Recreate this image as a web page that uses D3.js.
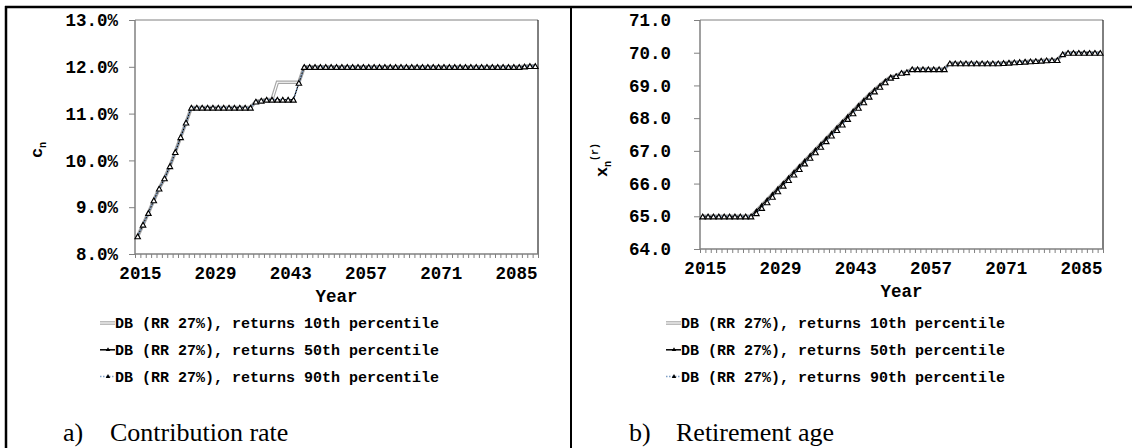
<!DOCTYPE html>
<meta charset="utf-8">
<style>
body { margin: 0; background: #fff; }
svg text { font-family: "Liberation Mono", "Courier New", monospace; font-weight: bold; fill: #000; }
svg text.caption { font-family: "Liberation Serif", "Times New Roman", serif; font-weight: normal; }
.axis path { display: none; }
.axis line { stroke: #808080; }
</style>
<svg width="1132" height="448"></svg>
<script src="https://cdn.jsdelivr.net/npm/d3@7/dist/d3.min.js"></script>
<script>

var years = d3.range(2015, 2090);
var yearLabels = [2015, 2029, 2043, 2057, 2071, 2085];

var seriesNames = [
  "DB (RR 27%), returns 10th percentile",
  "DB (RR 27%), returns 50th percentile",
  "DB (RR 27%), returns 90th percentile"
];

// contribution rate c_n (%)
var contrib10 = [
  8.38, 8.63, 8.88, 9.15, 9.40, 9.62, 9.88, 10.18, 10.50, 10.81,
  11.13, 11.13, 11.13, 11.13, 11.13, 11.13, 11.13, 11.13, 11.13, 11.13,
  11.13, 11.13, 11.26, 11.28, 11.30, 11.30, 11.67, 11.67, 11.67, 11.67,
  11.67, 12.00, 12.00, 12.00, 12.00, 12.00, 12.00, 12.00, 12.00, 12.00,
  12.00, 12.00, 12.00, 12.00, 12.00, 12.00, 12.00, 12.00, 12.00, 12.00,
  12.00, 12.00, 12.00, 12.00, 12.00, 12.00, 12.00, 12.00, 12.00, 12.00,
  12.00, 12.00, 12.00, 12.00, 12.00, 12.00, 12.00, 12.00, 12.00, 12.00,
  12.00, 12.00, 12.01, 12.02, 12.02
];
var contrib50 = [
  8.38, 8.63, 8.88, 9.15, 9.40, 9.62, 9.88, 10.18, 10.50, 10.81,
  11.13, 11.13, 11.13, 11.13, 11.13, 11.13, 11.13, 11.13, 11.13, 11.13,
  11.13, 11.13, 11.26, 11.28, 11.30, 11.30, 11.30, 11.30, 11.30, 11.30,
  11.66, 12.00, 12.00, 12.00, 12.00, 12.00, 12.00, 12.00, 12.00, 12.00,
  12.00, 12.00, 12.00, 12.00, 12.00, 12.00, 12.00, 12.00, 12.00, 12.00,
  12.00, 12.00, 12.00, 12.00, 12.00, 12.00, 12.00, 12.00, 12.00, 12.00,
  12.00, 12.00, 12.00, 12.00, 12.00, 12.00, 12.00, 12.00, 12.00, 12.00,
  12.00, 12.00, 12.01, 12.02, 12.02
];
var contrib90 = [
  8.38, 8.63, 8.88, 9.15, 9.40, 9.62, 9.88, 10.18, 10.50, 10.81,
  11.13, 11.13, 11.13, 11.13, 11.13, 11.13, 11.13, 11.13, 11.13, 11.13,
  11.13, 11.13, 11.26, 11.28, 11.30, 11.30, 11.30, 11.30, 11.30, 11.30,
  11.66, 12.00, 12.00, 12.00, 12.00, 12.00, 12.00, 12.00, 12.00, 12.00,
  12.00, 12.00, 12.00, 12.00, 12.00, 12.00, 12.00, 12.00, 12.00, 12.00,
  12.00, 12.00, 12.00, 12.00, 12.00, 12.00, 12.00, 12.00, 12.00, 12.00,
  12.00, 12.00, 12.00, 12.00, 12.00, 12.00, 12.00, 12.00, 12.00, 12.00,
  12.00, 12.00, 12.01, 12.02, 12.02
];

// retirement age x_n^(r)
var age10 = [
  65.00, 65.00, 65.00, 65.00, 65.00, 65.00, 65.00, 65.00, 65.00, 65.00,
  65.17, 65.34, 65.51, 65.68, 65.85, 66.02, 66.19, 66.36, 66.53, 66.70,
  66.87, 67.04, 67.21, 67.38, 67.55, 67.72, 67.89, 68.06, 68.23, 68.40,
  68.56, 68.72, 68.87, 69.01, 69.15, 69.27, 69.29, 69.39, 69.41, 69.50,
  69.50, 69.50, 69.50, 69.50, 69.50, 69.50, 69.68, 69.68, 69.68, 69.68,
  69.68, 69.68, 69.68, 69.68, 69.68, 69.68, 69.69, 69.70, 69.71, 69.72,
  69.73, 69.74, 69.75, 69.76, 69.77, 69.78, 69.78, 69.96, 70.00, 70.00,
  70.00, 70.00, 70.00, 70.00, 70.00
];
var age50 = [
  65.00, 65.00, 65.00, 65.00, 65.00, 65.00, 65.00, 65.00, 65.00, 65.00,
  65.17, 65.34, 65.51, 65.68, 65.85, 66.02, 66.19, 66.36, 66.53, 66.70,
  66.87, 67.04, 67.21, 67.38, 67.55, 67.72, 67.89, 68.06, 68.23, 68.40,
  68.56, 68.72, 68.87, 69.01, 69.15, 69.27, 69.29, 69.39, 69.41, 69.50,
  69.50, 69.50, 69.50, 69.50, 69.50, 69.50, 69.68, 69.68, 69.68, 69.68,
  69.68, 69.68, 69.68, 69.68, 69.68, 69.68, 69.69, 69.70, 69.71, 69.72,
  69.73, 69.74, 69.75, 69.76, 69.77, 69.78, 69.78, 69.96, 70.00, 70.00,
  70.00, 70.00, 70.00, 70.00, 70.00
];
var age90 = [
  65.00, 65.00, 65.00, 65.00, 65.00, 65.00, 65.00, 65.00, 65.00, 65.00,
  65.10, 65.26, 65.43, 65.60, 65.77, 65.94, 66.11, 66.28, 66.45, 66.62,
  66.79, 66.96, 67.13, 67.30, 67.47, 67.64, 67.81, 67.98, 68.15, 68.32,
  68.49, 68.66, 68.82, 68.96, 69.10, 69.24, 69.29, 69.39, 69.41, 69.50,
  69.50, 69.50, 69.50, 69.50, 69.50, 69.50, 69.68, 69.68, 69.68, 69.68,
  69.68, 69.68, 69.68, 69.68, 69.68, 69.68, 69.69, 69.70, 69.71, 69.72,
  69.73, 69.74, 69.75, 69.76, 69.77, 69.78, 69.78, 69.96, 70.00, 70.00,
  70.00, 70.00, 70.00, 70.00, 70.00
];

var contribTicks = [8, 9, 10, 11, 12, 13];
var ageTicks = [64, 65, 66, 67, 68, 69, 70, 71];

var svg = d3.select("svg");

// table frame
svg.append("line").attr("x1", 5).attr("x2", 1132).attr("y1", 7).attr("y2", 7)
  .attr("stroke", "#000").attr("stroke-width", 2.5);
svg.append("line").attr("x1", 6).attr("x2", 6).attr("y1", 6).attr("y2", 448)
  .attr("stroke", "#000").attr("stroke-width", 2.5);
svg.append("line").attr("x1", 571).attr("x2", 571).attr("y1", 6).attr("y2", 448)
  .attr("stroke", "#000").attr("stroke-width", 2);

function drawPanel(p) {
  var g = svg.append("g");

  var x = d3.scaleBand().domain(years).range([p.left, p.right]);
  var xi = d3.scaleLinear().domain([0, years.length]).range([p.left, p.right]);
  var y = d3.scaleLinear().domain(p.domain).range([p.bottom, p.top]);
  var cx = function(d, i) { return x(years[i]) + x.bandwidth() / 2; };

  // plot frame
  g.append("line").attr("x1", p.left).attr("x2", p.right).attr("y1", p.top).attr("y2", p.top)
    .attr("stroke", "#808080");
  g.append("line").attr("x1", p.right).attr("x2", p.right).attr("y1", p.top).attr("y2", p.bottom)
    .attr("stroke", "#000");
  g.append("line").attr("x1", p.left).attr("x2", p.left).attr("y1", p.top).attr("y2", p.bottom)
    .attr("stroke", "#808080").attr("stroke-width", 1.5);
  g.append("line").attr("x1", p.left).attr("x2", p.right).attr("y1", p.bottom).attr("y2", p.bottom)
    .attr("stroke", "#808080").attr("stroke-width", 1.5);

  // y axis
  var ya = g.append("g").attr("class", "axis")
    .attr("transform", "translate(" + p.left + ",0)")
    .call(d3.axisLeft(y).tickValues(p.ticks).tickSize(6).tickPadding(p.ypad).tickFormat(p.fmt));
  ya.selectAll("text").style("font-size", "17.5px");

  // minor category ticks
  g.append("g").attr("class", "axis")
    .attr("transform", "translate(0," + p.bottom + ")")
    .call(d3.axisBottom(xi).tickValues(d3.range(years.length + 1)).tickSize(4).tickFormat(""));

  // year labels
  var xa = g.append("g").attr("class", "axis")
    .attr("transform", "translate(" + x.bandwidth() / 2 + "," + p.bottom + ")")
    .call(d3.axisBottom(x).tickValues(yearLabels).tickSize(0).tickPadding(13));
  xa.selectAll("text").style("font-size", "17.5px");

  g.append("text").attr("x", (p.left + p.right) / 2).attr("y", p.bottom + 48)
    .attr("text-anchor", "middle").style("font-size", "17.5px").text("Year");

  // y title
  var t = g.append("text").attr("transform", "translate(" + p.titleX + "," + p.titleY + ") rotate(-90)")
    .attr("text-anchor", "middle").style("font-size", "17px");
  t.append("tspan").text(p.title);
  t.append("tspan").attr("dy", 4).style("font-size", "10px").text("n");
  if (p.sup) t.append("tspan").attr("dy", -13).style("font-size", "10px").text(p.sup);

  var line = d3.line().x(cx).y(function(d) { return y(d); });

  // 10th
  g.append("path").datum(p.s10).attr("d", line).attr("fill", "none")
    .attr("stroke", "#a6a6a6").attr("stroke-width", 3.5);
  g.append("path").datum(p.s10).attr("d", line).attr("fill", "none")
    .attr("stroke", "#fff").attr("stroke-width", 1.2);
  // 50th
  g.append("path").datum(p.s50).attr("d", line).attr("fill", "none")
    .attr("stroke", "#000").attr("stroke-width", 1.2);
  g.selectAll(".m50").data(p.s50).enter().append("path")
    .attr("d", d3.symbol(d3.symbolTriangle, 9))
    .attr("transform", function(d, i) { return "translate(" + cx(d, i) + "," + y(d) + ")"; })
    .attr("fill", "#000");
  // 90th
  g.append("path").datum(p.s90).attr("d", line).attr("fill", "none")
    .attr("stroke", "#7f9fc6").attr("stroke-width", 1.5).attr("stroke-dasharray", "1.5,1.5");
  g.selectAll(".m90").data(p.s90).enter().append("path")
    .attr("d", d3.symbol(d3.symbolTriangle, 13))
    .attr("transform", function(d, i) { return "translate(" + cx(d, i) + "," + (y(d) + 1) + ")"; })
    .attr("fill", "#fff").attr("stroke", "#000").attr("stroke-width", 1.1);

  // legend
  var lg = g.append("g").attr("transform", "translate(" + p.legX + "," + p.legY + ")");
  seriesNames.forEach(function(name, i) {
    var row = lg.append("g").attr("transform", "translate(0," + (i * 26.8) + ")");
    if (i === 0) {
      row.append("line").attr("x1", 0).attr("x2", 15).attr("stroke", "#a6a6a6").attr("stroke-width", 3.5);
      row.append("line").attr("x1", 0).attr("x2", 15).attr("stroke", "#fff").attr("stroke-width", 1.2);
    } else if (i === 1) {
      row.append("line").attr("x1", 0).attr("x2", 15).attr("stroke", "#000").attr("stroke-width", 1.5);
      row.append("path").attr("d", d3.symbol(d3.symbolTriangle, 9)).attr("transform", "translate(8,0)");
    } else {
      row.append("line").attr("x1", 0).attr("x2", 15).attr("stroke", "#7f9fc6")
        .attr("stroke-width", 1.5).attr("stroke-dasharray", "1.5,1.5");
      row.append("path").attr("d", d3.symbol(d3.symbolTriangle, 9)).attr("transform", "translate(8,0)");
    }
    row.append("text").attr("x", 15).attr("y", 5).style("font-size", "15px").text(name);
  });

  // caption
  g.append("text").attr("class", "caption").attr("x", p.capX).attr("y", 441)
    .style("font-size", "26px").text(p.capA);
  g.append("text").attr("class", "caption").attr("x", p.capX + 47).attr("y", 441)
    .style("font-size", "26px").text(p.capB);
}

drawPanel({
  left: 135, right: 538, top: 20, bottom: 254,
  domain: [8, 13], ticks: contribTicks, ypad: 11,
  fmt: function(d) { return d.toFixed(1) + "%"; },
  s10: contrib10, s50: contrib50, s90: contrib90,
  title: "c", sup: null, titleX: 42, titleY: 150,
  legX: 100, legY: 323,
  capX: 63, capA: "a)", capB: "Contribution rate"
});

drawPanel({
  left: 700, right: 1103, top: 20, bottom: 249,
  domain: [64, 71], ticks: ageTicks, ypad: 23,
  fmt: function(d) { return d.toFixed(1); },
  s10: age10, s50: age50, s90: age90,
  title: "x", sup: "(r)", titleX: 607, titleY: 160,
  legX: 666, legY: 323,
  capX: 629, capA: "b)", capB: "Retirement age"
});

</script>
